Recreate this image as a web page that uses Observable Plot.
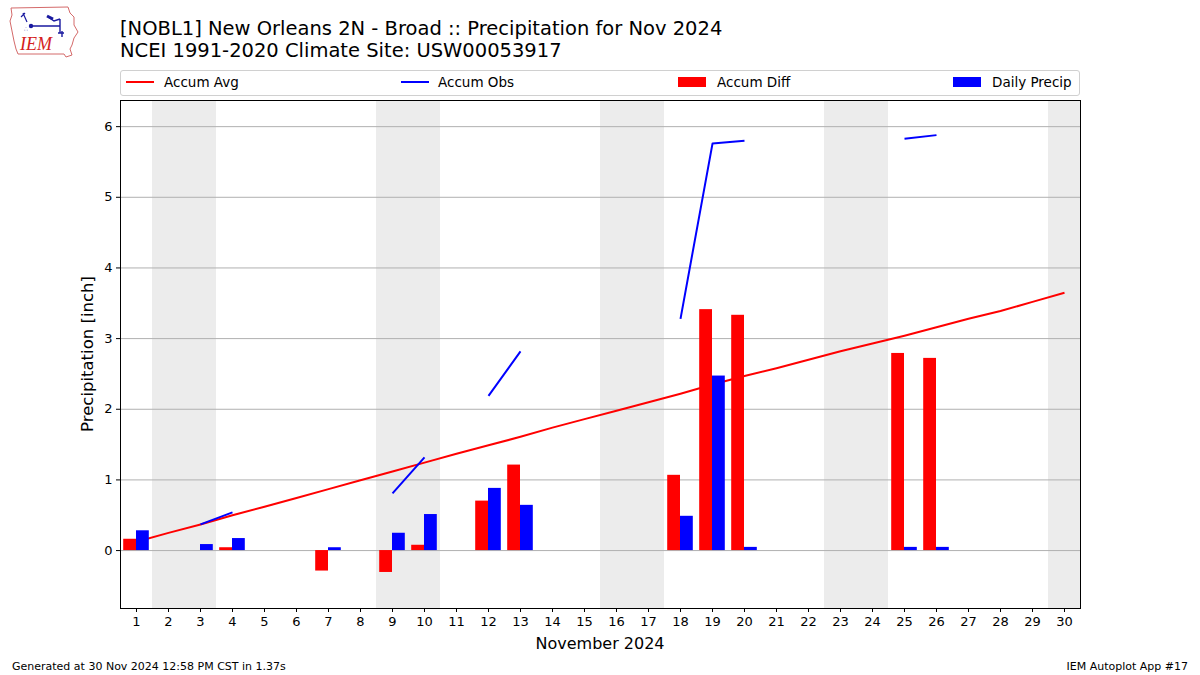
<!DOCTYPE html>
<html>
<head>
<meta charset="utf-8">
<script src="https://cdn.jsdelivr.net/npm/d3@7"></script>
<script src="https://cdn.jsdelivr.net/npm/@observablehq/plot@0.6"></script>
<style>
  html, body { margin: 0; padding: 0; background: #fff; }
  body { font-family: "DejaVu Sans", sans-serif; }
  #wrap { position: relative; width: 1200px; height: 675px; overflow: hidden; }
  #chart { position: absolute; left: 0; top: 0; }
  .t { position: absolute; white-space: nowrap; color: #000; }
  #legend { position: absolute; left: 120px; top: 70px; width: 958px; height: 24px;
            border: 1px solid #d0d0d0; border-radius: 3px; background: #fff; font-size: 13.5px; }
  .li { position: absolute; top: 0; height: 24px; line-height: 22px; }
  .ln { position: absolute; top: 10px; width: 28px; height: 2px; }
  .bx { position: absolute; top: 6px; width: 28px; height: 10px; }
</style>
</head>
<body>
<div id="wrap">
  <div id="chart"></div>
  <svg class="t" style="left:8px;top:5px" width="72" height="54" viewBox="0 0 72 54">
    <path d="M3,3 L60,2 L62,8 L66,12 L66,20 L70,27 L66,33 L64,40 L62,44 L64,50 L58,52 L56,49 L10,49 L8,44 L6,36 L4,26 L2,16 L4,10 Z" fill="none" stroke="#d46a6a" stroke-width="1"/>
    <path d="M15,8 L19,17 M13,12 L17,8" stroke="#1a1aa0" stroke-width="1.2" fill="none"/>
    <circle cx="23" cy="21" r="2.2" fill="#1a1aa0"/>
    <path d="M23,21 L52,21 M40,12 L46,16 L52,14 M52,14 L52,28 M50,28 L56,28 M54,26 L54,32" stroke="#1a1aa0" stroke-width="1.4" fill="none"/>
    <path d="M39,11 L45,14" stroke="#1a1aa0" stroke-width="3"/>
    <text x="16" y="26" font-size="6" fill="#1a1aa0">∴</text>
    <text x="12" y="45" font-family="Liberation Serif, serif" font-style="italic" font-size="18" fill="#d42020">IEM</text>
  </svg>
  <div class="t" style="left:120px;top:17px;font-size:19.5px;">[NOBL1] New Orleans 2N - Broad :: Precipitation for Nov 2024</div>
  <div class="t" style="left:120px;top:39px;font-size:19.5px;">NCEI 1991-2020 Climate Site: USW00053917</div>
  <div id="legend">
    <div class="ln" style="left:5px;background:#ff0000"></div>
    <div class="li" style="left:43px">Accum Avg</div>
    <div class="ln" style="left:280px;background:#0000ff"></div>
    <div class="li" style="left:317px">Accum Obs</div>
    <div class="bx" style="left:557px;background:#ff0000"></div>
    <div class="li" style="left:596px">Accum Diff</div>
    <div class="bx" style="left:832px;background:#0000ff"></div>
    <div class="li" style="left:871px">Daily Precip</div>
  </div>
  <div class="t" style="left:87px;top:354px;font-size:16.5px;transform:translate(-50%,-50%) rotate(-90deg);">Precipitation [inch]</div>
  <div class="t" style="left:600px;top:634px;font-size:16px;transform:translateX(-50%);">November 2024</div>
  <div class="t" style="left:12px;top:660px;font-size:11px;">Generated at 30 Nov 2024 12:58 PM CST in 1.37s</div>
  <div class="t" style="right:12px;top:660px;font-size:11px;">IEM Autoplot App #17</div>
</div>
<script>
// ---- data ----
const days = d3.range(1, 31);
const accumAvg = [0.125, 0.25, 0.37, 0.50, 0.62, 0.745, 0.87, 0.995, 1.12, 1.245,
                  1.37, 1.49, 1.61, 1.74, 1.86, 1.98, 2.10, 2.22, 2.35, 2.47,
                  2.58, 2.70, 2.82, 2.93, 3.04, 3.16, 3.28, 3.39, 3.52, 3.65];
const precipDays = [1, 3, 4, 7, 9, 10, 12, 13, 18, 19, 20, 25, 26];
const dailyPrecip = [0.28, 0.085, 0.17, 0.04, 0.245, 0.51, 0.88, 0.64, 0.485, 2.47, 0.045, 0.045, 0.045];
const accumObs   = [0.28, 0.37, 0.54, 0.58, 0.81, 1.32, 2.19, 2.82, 3.28, 5.76, 5.80, 5.83, 5.88];
const accumDiff  = [0.16, 0.00, 0.04, -0.29, -0.31, 0.075, 0.70, 1.21, 1.065, 3.41, 3.33, 2.79, 2.72];
const weekendDays = [2, 3, 9, 10, 16, 17, 23, 24, 30];
const yTicks = [0, 1, 2, 3, 4, 5, 6];

// ---- tables ----
const avgRows = days.map((d, i) => ({day: d, v: accumAvg[i]}));
const obsRows = days.map(d => {
  const k = precipDays.indexOf(d);
  return {day: d, v: k >= 0 ? accumObs[k] : NaN};
});
const precipRows = precipDays.map((d, i) => ({day: d, p: dailyPrecip[i], diff: accumDiff[i]}));
const weekendRows = weekendDays.map(d => ({day: d}));
const BW = 0.4;

const chart = Plot.plot({
  width: 1200,
  height: 675,
  marginTop: 100,
  marginBottom: 67,
  marginLeft: 120,
  marginRight: 120,
  style: {fontFamily: "DejaVu Sans, sans-serif", fontSize: "13px", color: "#000", background: "transparent"},
  x: {domain: [0.5, 30.5], ticks: days, tickFormat: d => String(d), tickSize: 4, tickPadding: 4, label: null},
  y: {domain: [-0.82, 6.37], ticks: yTicks, tickFormat: d => String(d), tickSize: 4, tickPadding: 4, label: null},
  marks: [
    Plot.rect(weekendRows, {x1: d => d.day - 0.5, x2: d => d.day + 0.5, fill: "#ececec"}),
    Plot.gridY(yTicks, {stroke: "#b0b0b0", strokeOpacity: 1, strokeWidth: 1}),
    Plot.line(avgRows, {x: "day", y: "v", stroke: "#ff0000", strokeWidth: 2, strokeLinecap: "butt"}),
    Plot.line(obsRows, {x: "day", y: "v", stroke: "#0000ff", strokeWidth: 2, strokeLinecap: "butt"}),
    Plot.rectY(precipRows, {x1: d => d.day - BW, x2: d => d.day, y1: 0, y2: "diff", fill: "#ff0000", inset: 0}),
    Plot.rectY(precipRows, {x1: d => d.day, x2: d => d.day + BW, y1: 0, y2: "p", fill: "#0000ff", inset: 0}),
    Plot.axisX({ticks: days, tickFormat: d => String(d), tickSize: 4, tickPadding: 4, fontSize: 13, label: null}),
    Plot.axisY({ticks: yTicks, tickFormat: d => String(d), tickSize: 4, tickPadding: 4, fontSize: 13, label: null}),
    Plot.frame({stroke: "#000", strokeWidth: 1})
  ]
});
document.getElementById("chart").appendChild(chart);
</script>
</body>
</html>
